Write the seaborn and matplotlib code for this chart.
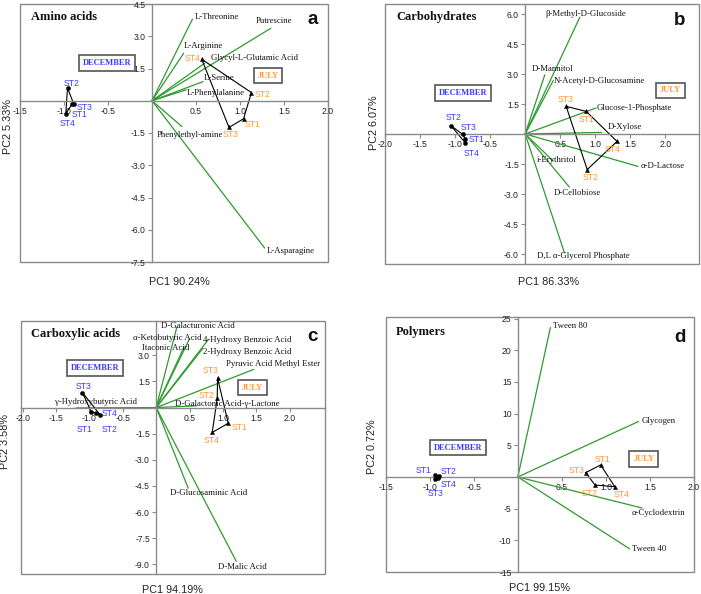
import numpy as np
import pandas as pd
import matplotlib
matplotlib.use("Agg")
import matplotlib.pyplot as plt
from matplotlib.patches import Rectangle
import seaborn as sns

sns.set_style("white")
plt.rcParams["font.family"] = ["Liberation Sans", "DejaVu Sans"]

STATIONS = ["ST1", "ST2", "ST3", "ST4"]

# ---------------- Panel a: Amino acids ----------------
A_VARS = ["L-Threonine", "Putrescine", "L-Arginine", "Glycyl-L-Glutamic Acid",
          "L-Serine", "L-Phenylalanine", "Phenylethyl-amine", "L-Asparagine"]
A_PC1 = [0.46, 1.35, 0.36, 0.60, 0.58, 0.39, 0.34, 1.28]
A_PC2 = [3.80, 3.37, 2.21, 1.75, 0.89, 0.51, -1.20, -6.85]
A_DEC_PC1 = [-0.91, -0.96, -0.89, -0.98]
A_DEC_PC2 = [-0.16, 0.59, -0.14, -0.61]
A_JUL_PC1 = [1.04, 1.13, 0.875, 0.565]
A_JUL_PC2 = [-0.84, 0.38, -1.24, 1.93]
A_XTICKS = [-1.5, -1.0, -0.5, 0.5, 1.0, 1.5, 2.0]
A_YTICKS = [4.5, 3.0, 1.5, -1.5, -3.0, -4.5, -6.0, -7.5]

# ---------------- Panel b: Carbohydrates ----------------
B_VARS = ["β-Methyl-D-Glucoside", "D-Mannitol", "N-Acetyl-D-Glucosamine",
          "Glucose-1-Phosphate", "D-Xylose", "α-D-Lactose", "i-Erythritol",
          "D-Cellobiose", "D,L α-Glycerol Phosphate"]
B_PC1 = [0.78, 0.28, 0.40, 1.01, 1.09, 1.61, 0.40, 0.63, 0.56]
B_PC2 = [5.84, 2.96, 2.67, 1.30, 0.08, -1.62, -1.35, -2.65, -5.94]
B_DEC_PC1 = [-0.857, -1.057, -0.89, -0.853]
B_DEC_PC2 = [-0.25, 0.41, -0.02, -0.45]
B_JUL_PC1 = [0.871, 0.885, 0.585, 1.31]
B_JUL_PC2 = [1.13, -1.78, 1.38, -0.37]
B_XTICKS = [-2.0, -1.5, -1.0, -0.5, 0.5, 1.0, 1.5, 2.0]
B_YTICKS = [6.0, 4.5, 3.0, 1.5, -1.5, -3.0, -4.5, -6.0]

# ---------------- Panel c: Carboxylic acids ----------------
C_VARS = ["D-Galacturonic Acid", "α-Ketobutyric Acid", "Itaconic Acid",
          "4-Hydroxy Benzoic Acid", "2-Hydroxy Benzoic Acid",
          "Pyruvic Acid Methyl Ester", "D-Galactonic Acid-γ-Lactone",
          "γ-Hydroxybutyric Acid", "D-Glucosaminic Acid", "D-Malic Acid"]
C_PC1 = [0.31, 0.50, 0.42, 0.78, 0.70, 1.46, 0.60, -1.20, 0.48, 1.20]
C_PC2 = [4.62, 3.95, 3.50, 3.90, 3.40, 2.19, 0.10, -0.02, -4.63, -8.83]
C_DEC_PC1 = [-0.97, -0.905, -1.105, -0.835]
C_DEC_PC2 = [-0.27, -0.32, 0.86, -0.44]
C_JUL_PC1 = [1.08, 0.915, 0.92, 0.84]
C_JUL_PC2 = [-0.90, 0.54, 1.69, -1.43]
C_XTICKS = [-2.0, -1.5, -1.0, -0.5, 0.5, 1.0, 1.5, 2.0]
C_YTICKS = [3.0, 1.5, -1.5, -3.0, -4.5, -6.0, -7.5, -9.0]

# ---------------- Panel d: Polymers ----------------
D_VARS = ["Tween 80", "Glycogen", "α-Cyclodextrin", "Tween 40"]
D_PC1 = [0.37, 1.37, 1.41, 1.27]
D_PC2 = [23.6, 8.76, -4.9, -11.35]
D_DEC_PC1 = [-0.94, -0.90, -0.94, -0.91]
D_DEC_PC2 = [0.3, 0.1, -0.3, -0.2]
D_JUL_PC1 = [0.94, 0.876, 0.771, 1.10]
D_JUL_PC2 = [1.9, -1.27, 0.68, -1.53]
D_XTICKS = [-1.5, -1.0, -0.5, 0.5, 1.0, 1.5, 2.0]
D_YTICKS = [25, 20, 15, 10, 5, -5, -10, -15]

GREEN = "#2f9a2f"
BLUE = "#3a3aff"
ORANGE = "#ff9a2e"
GRAY = "#8a8a8a"
SERIF = ["Liberation Serif", "DejaVu Serif"]

panels = [
    dict(rect=[20/701, 1-262/594, 308/701, 258/594], title="Amino acids", letter="a",
         xlabel="PC1 90.24%", ylabel="PC2 5.33%",
         xlim=(-1.5, 2.0), ylim=(-7.5, 4.5), xticks=A_XTICKS, yticks=A_YTICKS, fmt="{:.1f}", yfmt="{:.1f}",
         vars=A_VARS, pc1=A_PC1, pc2=A_PC2,
         dec=(A_DEC_PC1, A_DEC_PC2), jul=(A_JUL_PC1, A_JUL_PC2),
         dec_poly=[1, 2, 0, 3], jul_poly=[3, 1, 0, 2],
         var_off=[(2, 2, "left"), (3, 7.6, "center"), (0, 7, "left"), (6, 5.5, "left"),
                  (1, 4, "left"), (0.5, -3.4, "left"), (8, -8.3, "center"), (1.7, -3.3, "left")],
         dec_off=[(7.3, -10), (4, 5), (10.7, -3.3), (2.3, -9.3)],
         jul_off=[(9, -5.3), (10.7, -1.6), (2, -7), (-9.3, 1)],
         dec_box=(-0.515, 1.75), jul_box=(1.32, 1.17),
         title_pos=(0.035, 0.948), letter_pos=(0.949, 0.938),
         xl_off=(5, -20), yl_off=(-12, 6)),
    dict(rect=[385/701, 1-264/594, 314/701, 260/594], title="Carbohydrates", letter="b",
         xlabel="PC1 86.33%", ylabel="PC2 6.07%",
         xlim=(-2.0, 2.48), ylim=(-6.5, 6.5), xticks=B_XTICKS, yticks=B_YTICKS, fmt="{:.1f}", yfmt="{:.1f}",
         vars=B_VARS, pc1=B_PC1, pc2=B_PC2,
         dec=(B_DEC_PC1, B_DEC_PC2), jul=(B_JUL_PC1, B_JUL_PC2),
         dec_poly=[1, 2, 0, 3], jul_poly=[2, 0, 3, 1],
         var_off=[(6, 3.3, "center"), (7.5, 6, "center"), (1, 0, "left"), (1, 0, "left"),
                  (6.6, 5, "left"), (3, 0, "left"), (3.5, 1.3, "center"), (8, -6, "center"),
                  (18.5, -3.4, "center")],
         dec_off=[(11, -0.7), (2.3, 8.8), (5.6, 6.4), (6.3, -11)],
         jul_off=[(0.7, -8.3), (3, -8.3), (-0.6, 6.7), (-4, -8.3)],
         dec_box=(-0.89, 2.05), jul_box=(2.07, 2.18),
         title_pos=(0.037, 0.949), letter_pos=(0.939, 0.938),
         xl_off=(7, -18), yl_off=(-11, 11)),
    dict(rect=[20.7/701, 1-574/594, 304.3/701, 253.3/594], title="Carboxylic acids", letter="c",
         xlabel="PC1 94.19%", ylabel="PC2 3.58%",
         xlim=(-2.03, 2.53), ylim=(-9.56, 4.99), xticks=C_XTICKS, yticks=C_YTICKS, fmt="{:.1f}", yfmt="{:.1f}",
         vars=C_VARS, pc1=C_PC1, pc2=C_PC2,
         dec=(C_DEC_PC1, C_DEC_PC2), jul=(C_JUL_PC1, C_JUL_PC2),
         dec_poly=[2, 0, 1, 3], jul_poly=[2, 0, 3, 1],
         var_off=[(-15.7, 1.5, "left"), (-22.6, 0.6, "center"), (-18.8, -1.6, "center"),
                  (-5, 0, "left"), (0.3, -4, "left"), (19.7, 5.5, "center"),
                  (30.7, 2, "center"), (19.5, 6.3, "center"), (20.2, -5.3, "center"),
                  (5.7, -5.7, "center")],
         dec_off=[(-6.6, -17.6), (14, -16.7), (1.4, 6), (9.4, 2)],
         jul_off=[(11, -3.9), (-10.6, 2.6), (-6.6, 7.2), (-0.6, -8.1)],
         dec_box=(-0.91, 2.26), jul_box=(1.44, 1.15),
         title_pos=(0.033, 0.946), letter_pos=(0.958, 0.937),
         xl_off=(0, -16), yl_off=(-15.7, 5.6)),
    dict(rect=[385.7/701, 1-572/594, 308.3/701, 254.7/594], title="Polymers", letter="d",
         xlabel="PC1 99.15%", ylabel="PC2 0.72%",
         xlim=(-1.5, 2.0), ylim=(-15, 25.2), xticks=D_XTICKS, yticks=D_YTICKS, fmt="{:.1f}", yfmt="{:.0f}",
         vars=D_VARS, pc1=D_PC1, pc2=D_PC2,
         dec=(D_DEC_PC1, D_DEC_PC2), jul=(D_JUL_PC1, D_JUL_PC2),
         dec_poly=[0, 1, 3, 2], jul_poly=[2, 0, 3, 1],
         var_off=[(3, 1.9, "left"), (2.7, 0.7, "left"), (-10, -5.3, "left"), (2.3, -0.6, "left")],
         dec_off=[(-11, 4.1), (10.5, 4.7), (1, -14.4), (11.4, -6.4)],
         jul_off=[(1.6, 5), (-5.3, -8.3), (-9, 2.4), (6.5, -8.3)],
         dec_box=(-0.677, 4.64), jul_box=(1.43, 2.8),
         title_pos=(0.033, 0.943), letter_pos=(0.954, 0.92),
         xl_off=(0, -16), yl_off=(-14, -2)),
]

fig = plt.figure(figsize=(7.01, 5.94), dpi=100)

for p in panels:
    ax = fig.add_axes(p["rect"])
    ax.set_xlim(*p["xlim"])
    ax.set_ylim(*p["ylim"])

    # frame
    for s in ["top", "right"]:
        ax.spines[s].set_visible(False)
    ax.spines["left"].set_position(("data", 0))
    ax.spines["bottom"].set_position(("data", 0))
    for s in ["left", "bottom"]:
        ax.spines[s].set_color(GRAY)
        ax.spines[s].set_linewidth(1.0)
    ax.add_patch(Rectangle((0, 0), 1, 1, transform=ax.transAxes, fill=False,
                           ec=GRAY, lw=1.0, clip_on=False, zorder=0))
    ax.set_xticks(p["xticks"])
    ax.set_xticklabels([p["fmt"].format(v) for v in p["xticks"]])
    ax.set_yticks(p["yticks"])
    ax.set_yticklabels([p["yfmt"].format(v) for v in p["yticks"]])
    ax.tick_params(bottom=True, left=True, direction="out", length=3, width=0.8,
                   color=GRAY, labelsize=6.2, pad=1.5, labelcolor="#222222")
    ax.set_xlabel("")
    ax.set_ylabel("")

    # loading vectors
    rows = []
    for name, x, y in zip(p["vars"], p["pc1"], p["pc2"]):
        rows.append(dict(var=name, x=0.0, y=0.0))
        rows.append(dict(var=name, x=x, y=y))
    vdf = pd.DataFrame(rows)
    sns.lineplot(data=vdf, x="x", y="y", units="var", estimator=None, sort=False,
                 color=GREEN, lw=0.9, ax=ax, legend=False)
    ax.set_xlabel("")
    ax.set_ylabel("")
    for name, x, y, (dx, dy, ha) in zip(p["vars"], p["pc1"], p["pc2"], p["var_off"]):
        ax.annotate(name, (x, y), xytext=(dx, dy), textcoords="offset pixels",
                    ha=ha, va="center", fontsize=6.3, family=SERIF, color="#111111")

    # station groups
    for key, poly, off, col, mk in [("dec", p["dec_poly"], p["dec_off"], BLUE, "o"),
                                     ("jul", p["jul_poly"], p["jul_off"], ORANGE, "^")]:
        xs, ys = p[key]
        order = poly + [poly[0]]
        sns.lineplot(x=[xs[i] for i in order], y=[ys[i] for i in order], sort=False,
                     estimator=None, color="black", lw=0.8, ax=ax)
        sns.scatterplot(x=xs, y=ys, color="black", marker=mk, s=9, ax=ax,
                        edgecolor="black", linewidth=0.3, zorder=5)
        for st, x, y, (dx, dy) in zip(STATIONS, xs, ys, off):
            ax.annotate(st, (x, y), xytext=(dx, dy), textcoords="offset pixels",
                        ha="center", va="center", fontsize=6.2, color=col)
    ax.set_xlabel("")
    ax.set_ylabel("")

    # season boxes
    ax.text(*p["dec_box"], "DECEMBER", ha="center", va="center", fontsize=6,
            family=SERIF, fontweight="bold", color=BLUE,
            bbox=dict(boxstyle="square,pad=0.45", fc="white", ec="#555555", lw=1.2))
    ax.text(*p["jul_box"], "JULY", ha="center", va="center", fontsize=6,
            family=SERIF, fontweight="bold", color=ORANGE,
            bbox=dict(boxstyle="square,pad=0.45", fc="white", ec="#555555", lw=1.2))

    # titles
    ax.text(*p["title_pos"], p["title"], transform=ax.transAxes, ha="left", va="center",
            fontsize=9, fontweight="bold", family=SERIF, color="#111111")
    ax.text(*p["letter_pos"], p["letter"], transform=ax.transAxes, ha="center", va="center",
            fontsize=13.5, fontweight="bold", color="#111111")

    # axis labels
    ax.annotate(p["xlabel"], (0.5, 0), xycoords="axes fraction", xytext=p["xl_off"],
                textcoords="offset pixels", ha="center", va="center", fontsize=7.8,
                color="#222222", annotation_clip=False)
    ax.annotate(p["ylabel"], (0, 0.5), xycoords="axes fraction", xytext=p["yl_off"],
                textcoords="offset pixels", ha="center", va="center", fontsize=7.8,
                rotation=90, color="#222222", annotation_clip=False)

fig.savefig("out.png", dpi=100)
